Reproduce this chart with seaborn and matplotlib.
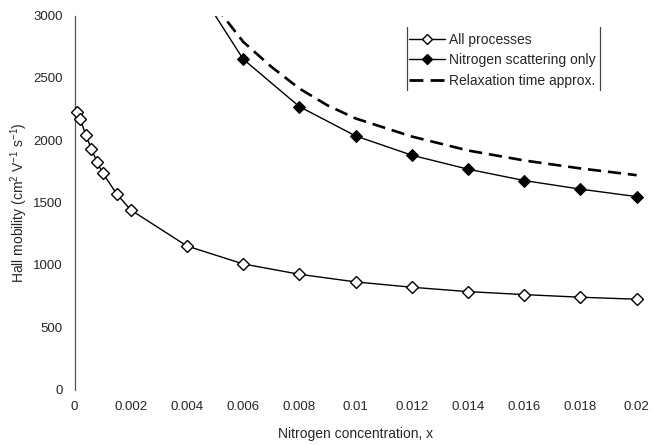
import matplotlib
matplotlib.use("Agg")
import matplotlib.pyplot as plt
from matplotlib.lines import Line2D
from matplotlib.transforms import Bbox, TransformedBbox
import seaborn as sns
import pandas as pd

# ---- data ----
x_all = [0.0001, 0.0002, 0.0004, 0.0006, 0.0008, 0.001, 0.0015, 0.002,
         0.004, 0.006, 0.008, 0.010, 0.012, 0.014, 0.016, 0.018, 0.020]
mu_all = [2228, 2172, 2043, 1931, 1826, 1738, 1570, 1441,
          1152, 1008, 925, 864, 821, 786, 762, 741, 725]

x_nit = [0.004, 0.006, 0.008, 0.010, 0.012, 0.014, 0.016, 0.018, 0.020]
mu_nit = [3355, 2651, 2270, 2035, 1880, 1768, 1677, 1608, 1548]

x_rta = [0.005, 0.006, 0.007, 0.008, 0.009, 0.010, 0.012, 0.014, 0.016, 0.018, 0.020]
mu_rta = [3080, 2790, 2590, 2415, 2280, 2175, 2030, 1918, 1838, 1774, 1720]

labels = ["All processes", "Nitrogen scattering only", "Relaxation time approx."]
x_ticks = [0, 0.002, 0.004, 0.006, 0.008, 0.01, 0.012, 0.014, 0.016, 0.018, 0.02]
x_ticklabels = ["0", "0.002", "0.004", "0.006", "0.008", "0.01", "0.012",
                "0.014", "0.016", "0.018", "0.02"]
y_ticks = [0, 500, 1000, 1500, 2000, 2500, 3000]

sns.set_style("white")
plt.rcParams["font.family"] = ["Liberation Sans", "DejaVu Sans"]
plt.rcParams["mathtext.fontset"] = "custom"
plt.rcParams["mathtext.rm"] = "Liberation Sans"
plt.rcParams["mathtext.it"] = "Liberation Sans"
plt.rcParams["mathtext.default"] = "rm"

FS = 10
TFS = 9.5

fig = plt.figure(figsize=(6.51, 4.45), dpi=100)
ax = fig.add_axes([74.5/651, 1 - 389.6/445, (636.7 - 74.5)/651, (389.6 - 15.6)/445])

df_all = pd.DataFrame({"x": x_all, "mu": mu_all})
df_nit = pd.DataFrame({"x": x_nit, "mu": mu_nit})
df_rta = pd.DataFrame({"x": x_rta, "mu": mu_rta})

# clip only at top (and bottom); let end markers spill past left/right edges
clip = TransformedBbox(Bbox([[-0.05, 0.0], [1.05, 1.0]]), ax.transAxes)

sns.lineplot(data=df_rta, x="x", y="mu", ax=ax, color="black", linewidth=1.9,
             sort=False, zorder=2)
ax.lines[-1].set_dashes([5, 2.6])
ax.lines[-1].set_clip_box(clip)
sns.lineplot(data=df_nit, x="x", y="mu", ax=ax, color="black", linewidth=1.0,
             marker="D", markersize=6.5, markerfacecolor="black",
             markeredgecolor="black", sort=False, zorder=3)
ax.lines[-1].set_clip_box(clip)
sns.lineplot(data=df_all, x="x", y="mu", ax=ax, color="black", linewidth=1.0,
             marker="D", markersize=6.5, markerfacecolor="white",
             markeredgecolor="black", markeredgewidth=1.0, sort=False, zorder=3)
ax.lines[-1].set_clip_box(clip)

ax.set_xlim(0, 0.02)
ax.set_ylim(0, 3000)
ax.set_xticks(x_ticks)
ax.set_xticklabels(x_ticklabels)
ax.set_yticks(y_ticks)
ax.tick_params(axis="both", labelsize=TFS, length=2.5, width=0.8, color="#555555",
               direction="out", pad=6)
ax.tick_params(axis="y", pad=6)
for s in ["top", "right", "bottom"]:
    ax.spines[s].set_visible(False)
ax.spines["left"].set_color("#555555")
ax.spines["left"].set_linewidth(0.9)

ax.set_xlabel("Nitrogen concentration, x", fontsize=FS, labelpad=10)
ax.set_ylabel(r"Hall mobility (cm$^{2}$ V$^{-1}$ s$^{-1}$)", fontsize=FS, labelpad=2.5)

handles = [
    Line2D([], [], color="black", lw=1.0, marker="D", markersize=5,
           markerfacecolor="white", markeredgecolor="black"),
    Line2D([], [], color="black", lw=1.0, marker="D", markersize=5,
           markerfacecolor="black", markeredgecolor="black"),
    Line2D([], [], color="black", lw=2.0, dashes=[5, 2.6]),
]
leg = ax.legend(handles, labels, loc="upper left", bbox_to_anchor=(409/651, 1 - 33/445),
                bbox_transform=fig.transFigure, frameon=False, fontsize=FS,
                handlelength=2.6, handletextpad=0.3, labelspacing=0.45,
                borderpad=0, borderaxespad=0)

# legend side rules
for xp in (407, 600):
    fig.add_artist(Line2D([xp/651, xp/651], [1 - 27/445, 1 - 90/445],
                          transform=fig.transFigure, color="#444444", lw=0.9))

fig.savefig("out.png", dpi=100)
